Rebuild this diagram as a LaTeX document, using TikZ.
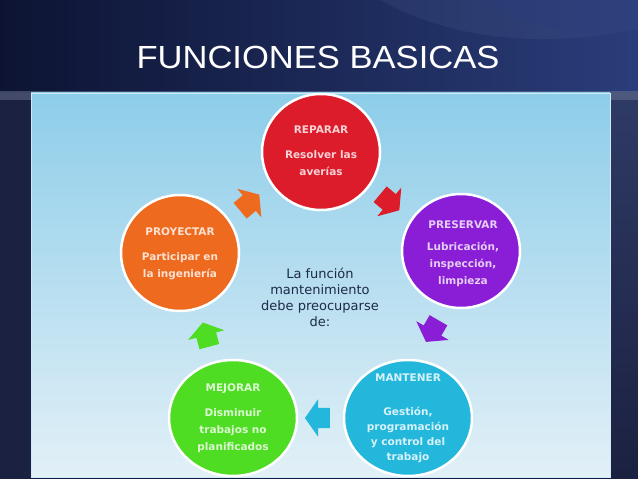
\documentclass[tikz,border=0pt]{standalone}
\usepackage{fontspec}
\setmainfont{DejaVu Sans}
\newfontfamily\titlefont{Liberation Sans}
\usetikzlibrary{shapes.geometric,shapes.arrows,calc}
\definecolor{navy}{HTML}{141D45}
\definecolor{navydark}{HTML}{0D1433}
\definecolor{navylight}{HTML}{2A3D7A}
\definecolor{sidedark}{HTML}{1B2140}
\definecolor{sidelight}{HTML}{2E3B66}
\definecolor{paneltop}{HTML}{8DCDE9}
\definecolor{panelbot}{HTML}{E2F0F7}
\definecolor{cred}{HTML}{DD1C2B}
\definecolor{corange}{HTML}{EE6A1F}
\definecolor{cpurple}{HTML}{8A1ED6}
\definecolor{ccyan}{HTML}{23B7DC}
\definecolor{cgreen}{HTML}{4EDD22}
\definecolor{centertext}{HTML}{1E2A47}
\begin{document}
\begin{tikzpicture}[x=1pt,y=1pt,
  bubble/.style={ellipse, draw=white, line width=2.5pt, inner sep=0pt,
    minimum width=118pt, minimum height=116pt},
  wide/.style={minimum width=128pt, minimum height=116pt},
  btitle/.style={font=\fontsize{10.5}{12}\selectfont\bfseries, inner sep=0pt},
  bbody/.style={font=\fontsize{10.5}{17}\selectfont\bfseries, align=center, inner sep=0pt},
  blockarrow/.style={single arrow, inner xsep=0pt, inner ysep=10pt,
    minimum height=25pt, single arrow head extend=8.5pt,
    single arrow tip angle=110}
]
\useasboundingbox (0,0) rectangle (638,479);
% background
\fill[navy] (0,0) rectangle (638,479);
\shade[left color=navydark, right color=navylight] (0,386) rectangle (638,479);
\fill[navylight!80!white, opacity=0.18]
  (380,479) .. controls (450,440) and (540,430) .. (638,450) -- (638,479) -- cycle;
\fill[navylight, opacity=0.35]
  (470,479) .. controls (520,455) and (590,440) .. (638,445) -- (638,479) -- cycle;
\fill[sidedark] (0,0) rectangle (31,386);
\shade[top color=sidelight, bottom color=sidedark] (610,0) rectangle (638,386);
\fill[sidelight!70!white, opacity=0.5] (0,379) rectangle (638,388);
% panel
\shade[top color=paneltop, bottom color=panelbot, draw=white!60!paneltop, line width=0.6pt]
  (31,2) rectangle (610,386);
% title
\node[font=\titlefont\fontsize{32}{38}\selectfont, text=white, inner sep=0pt, xscale=1.08]
  (title) at (318,422) {FUNCIONES BASICAS};
% circles
\node[bubble, fill=cred] (rep) at (321,327) {};
\node[bubble, fill=corange] (proy) at (180,226) {};
\node[bubble, fill=cpurple, minimum height=114pt] (pres) at (461,228) {};
\node[bubble, wide, fill=ccyan] (mant) at (408,61) {};
\node[bubble, wide, fill=cgreen] (mej) at (233,61) {};
% circle texts
\node[btitle, text=white!80!cred] (rep-t) at ($(rep)+(0,22)$) {REPARAR};
\node[bbody, text=white!80!cred] (rep-b) at ($(rep)+(0,-11.5)$) {Resolver las\\aver\'ias};
\node[btitle, text=white!80!corange] (proy-t) at ($(proy)+(0,21)$) {PROYECTAR};
\node[bbody, text=white!80!corange] (proy-b) at ($(proy)+(0,-13)$) {Participar en\\la ingenier\'ia};
\node[btitle, text=white!78!cpurple] (pres-t) at ($(pres)+(2,26.5)$) {PRESERVAR};
\node[bbody, text=white!78!cpurple] (pres-b) at ($(pres)+(2,-13.5)$) {Lubricaci\'on,\\inspecci\'on,\\limpieza};
\node[btitle, text=white!82!ccyan] (mant-t) at ($(mant)+(0,40)$) {MANTENER};
\node[bbody, text=white!82!ccyan, font=\fontsize{10.5}{15}\selectfont\bfseries] (mant-b) at ($(mant)+(0,-16.5)$) {Gesti\'on,\\programaci\'on\\y control del\\trabajo};
\node[btitle, text=white!80!cgreen] (mej-t) at ($(mej)+(0,29)$) {MEJORAR};
\node[bbody, text=white!80!cgreen] (mej-b) at ($(mej)+(0,-12.5)$) {Disminuir\\trabajos no\\planificados};
% center text
\node[font=\fontsize{13}{16}\selectfont, text=centertext, align=center, inner sep=0pt]
  (center) at (320,181.5) {La funci\'on\\mantenimiento\\debe preocuparse\\de:};
% block arrows
\node[blockarrow, fill=corange, rotate=40] (a1) at (247,274) {};
\node[blockarrow, fill=cred, rotate=-40] (a2) at (387,279) {};
\node[blockarrow, fill=cpurple, rotate=-120] (a3) at (434,151) {};
\node[blockarrow, fill=ccyan, rotate=180] (a4) at (321,61) {};
\node[blockarrow, fill=cgreen, rotate=105] (a5) at (207,141) {};
\end{tikzpicture}
\end{document}
